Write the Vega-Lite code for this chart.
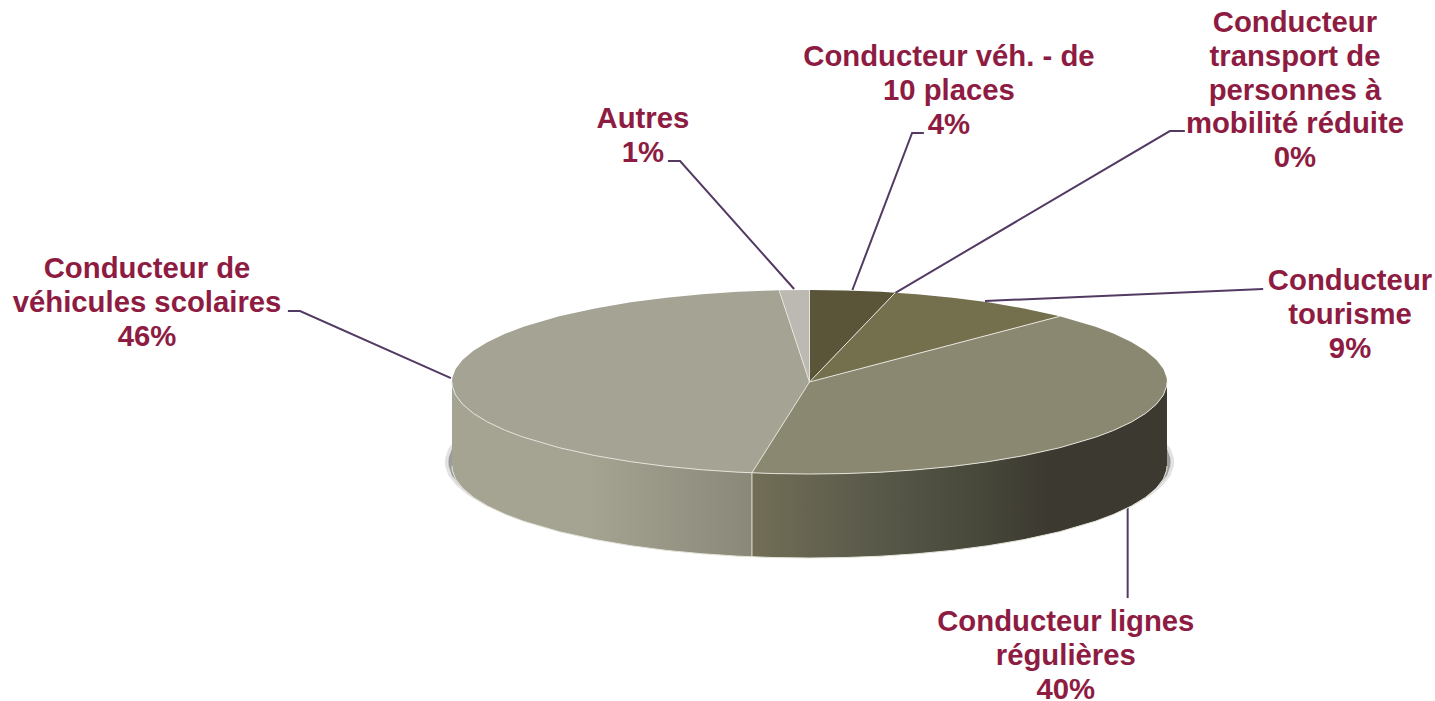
{"$schema":"https://vega.github.io/schema/vega-lite/v6.json","width":1435,"height":701,"padding":0,"autosize":{"type":"none"},"background":"white","config":{"view":{"stroke":null}},
"datasets":{
"shadow":[
{"s":"outer","x":-1.02,"y":-0.87,"y2":-0.87},{"s":"outer","x":-1.019,"y":-0.824,"y2":-0.916},{"s":"outer","x":-1.01,"y":-0.725,"y2":-1.015},{"s":"outer","x":-0.989,"y":-0.62,"y2":-1.12},{"s":"outer","x":-0.959,"y":-0.519,"y2":-1.221},{"s":"outer","x":-0.918,"y":-0.421,"y2":-1.319},{"s":"outer","x":-0.867,"y":-0.327,"y2":-1.413},{"s":"outer","x":-0.816,"y":-0.252,"y2":-1.488},{"s":"outer","x":-0.612,"y":-0.046,"y2":-1.694},{"s":"outer","x":-0.306,"y":0.113,"y2":-1.853},{"s":"outer","x":0,"y":0.16,"y2":-1.9},{"s":"outer","x":0.306,"y":0.113,"y2":-1.853},{"s":"outer","x":0.612,"y":-0.046,"y2":-1.694},{"s":"outer","x":0.816,"y":-0.252,"y2":-1.488},{"s":"outer","x":0.867,"y":-0.327,"y2":-1.413},{"s":"outer","x":0.918,"y":-0.421,"y2":-1.319},{"s":"outer","x":0.959,"y":-0.519,"y2":-1.221},{"s":"outer","x":0.989,"y":-0.62,"y2":-1.12},{"s":"outer","x":1.01,"y":-0.725,"y2":-1.015},{"s":"outer","x":1.019,"y":-0.824,"y2":-0.916},{"s":"outer","x":1.02,"y":-0.87,"y2":-0.87},
{"s":"inner","x":-1.01,"y":-0.87,"y2":-0.87},{"s":"inner","x":-1.009,"y":-0.824,"y2":-0.916},{"s":"inner","x":-1.0,"y":-0.725,"y2":-1.015},{"s":"inner","x":-0.979,"y":-0.62,"y2":-1.12},{"s":"inner","x":-0.949,"y":-0.519,"y2":-1.221},{"s":"inner","x":-0.909,"y":-0.421,"y2":-1.319},{"s":"inner","x":-0.859,"y":-0.327,"y2":-1.413},{"s":"inner","x":-0.808,"y":-0.252,"y2":-1.488},{"s":"inner","x":-0.606,"y":-0.046,"y2":-1.694},{"s":"inner","x":-0.303,"y":0.113,"y2":-1.853},{"s":"inner","x":0,"y":0.16,"y2":-1.89},{"s":"inner","x":0.303,"y":0.113,"y2":-1.853},{"s":"inner","x":0.606,"y":-0.046,"y2":-1.694},{"s":"inner","x":0.808,"y":-0.252,"y2":-1.488},{"s":"inner","x":0.859,"y":-0.327,"y2":-1.413},{"s":"inner","x":0.909,"y":-0.421,"y2":-1.319},{"s":"inner","x":0.949,"y":-0.519,"y2":-1.221},{"s":"inner","x":0.979,"y":-0.62,"y2":-1.12},{"s":"inner","x":1.0,"y":-0.725,"y2":-1.015},{"s":"inner","x":1.009,"y":-0.824,"y2":-0.916},{"s":"inner","x":1.01,"y":-0.87,"y2":-0.87}],
"side":[
{"p":"left","x":-1,"y":0,"y2":-0.913},{"p":"left","x":-0.999,"y":-0.045,"y2":-0.958},{"p":"left","x":-0.99,"y":-0.141,"y2":-1.054},{"p":"left","x":-0.97,"y":-0.243,"y2":-1.156},{"p":"left","x":-0.94,"y":-0.341,"y2":-1.254},{"p":"left","x":-0.9,"y":-0.436,"y2":-1.349},{"p":"left","x":-0.85,"y":-0.527,"y2":-1.44},{"p":"left","x":-0.8,"y":-0.6,"y2":-1.513},{"p":"left","x":-0.7,"y":-0.714,"y2":-1.627},{"p":"left","x":-0.6,"y":-0.8,"y2":-1.713},{"p":"left","x":-0.5,"y":-0.866,"y2":-1.779},{"p":"left","x":-0.4,"y":-0.917,"y2":-1.83},{"p":"left","x":-0.3,"y":-0.954,"y2":-1.867},{"p":"left","x":-0.2,"y":-0.98,"y2":-1.893},{"p":"left","x":-0.161,"y":-0.987,"y2":-1.9},
{"p":"right","x":-0.161,"y":-0.987,"y2":-1.9},{"p":"right","x":-0.1,"y":-0.995,"y2":-1.908},{"p":"right","x":0,"y":-1,"y2":-1.913},{"p":"right","x":0.1,"y":-0.995,"y2":-1.908},{"p":"right","x":0.2,"y":-0.98,"y2":-1.893},{"p":"right","x":0.3,"y":-0.954,"y2":-1.867},{"p":"right","x":0.4,"y":-0.917,"y2":-1.83},{"p":"right","x":0.5,"y":-0.866,"y2":-1.779},{"p":"right","x":0.6,"y":-0.8,"y2":-1.713},{"p":"right","x":0.7,"y":-0.714,"y2":-1.627},{"p":"right","x":0.8,"y":-0.6,"y2":-1.513},{"p":"right","x":0.85,"y":-0.527,"y2":-1.44},{"p":"right","x":0.9,"y":-0.436,"y2":-1.349},{"p":"right","x":0.94,"y":-0.341,"y2":-1.254},{"p":"right","x":0.97,"y":-0.243,"y2":-1.156},{"p":"right","x":0.99,"y":-0.141,"y2":-1.054},{"p":"right","x":0.999,"y":-0.045,"y2":-0.958},{"p":"right","x":1,"y":0,"y2":-0.913}],
"top":[
{"slice":"Conducteur véh. - de 10 places","x":0,"y":1,"y2":0},{"slice":"Conducteur véh. - de 10 places","x":0.1,"y":0.995,"y2":0.405},{"slice":"Conducteur véh. - de 10 places","x":0.2,"y":0.98,"y2":0.809},{"slice":"Conducteur véh. - de 10 places","x":0.24,"y":0.971,"y2":0.971},
{"slice":"Conducteur tourisme","x":0,"y":0,"y2":0},{"slice":"Conducteur tourisme","x":0.1,"y":0.405,"y2":0.102},{"slice":"Conducteur tourisme","x":0.2,"y":0.809,"y2":0.204},{"slice":"Conducteur tourisme","x":0.24,"y":0.971,"y2":0.245},{"slice":"Conducteur tourisme","x":0.3,"y":0.954,"y2":0.306},{"slice":"Conducteur tourisme","x":0.4,"y":0.917,"y2":0.408},{"slice":"Conducteur tourisme","x":0.5,"y":0.866,"y2":0.51},{"slice":"Conducteur tourisme","x":0.6,"y":0.8,"y2":0.612},{"slice":"Conducteur tourisme","x":0.7,"y":0.714,"y2":0.714},
{"slice":"Conducteur lignes régulières","x":-0.161,"y":-0.987,"y2":-0.987},{"slice":"Conducteur lignes régulières","x":-0.1,"y":-0.613,"y2":-0.995},{"slice":"Conducteur lignes régulières","x":0,"y":0,"y2":-1},{"slice":"Conducteur lignes régulières","x":0.1,"y":0.102,"y2":-0.995},{"slice":"Conducteur lignes régulières","x":0.2,"y":0.204,"y2":-0.98},{"slice":"Conducteur lignes régulières","x":0.3,"y":0.306,"y2":-0.954},{"slice":"Conducteur lignes régulières","x":0.4,"y":0.408,"y2":-0.917},{"slice":"Conducteur lignes régulières","x":0.5,"y":0.51,"y2":-0.866},{"slice":"Conducteur lignes régulières","x":0.6,"y":0.612,"y2":-0.8},{"slice":"Conducteur lignes régulières","x":0.7,"y":0.714,"y2":-0.714},{"slice":"Conducteur lignes régulières","x":0.8,"y":0.6,"y2":-0.6},{"slice":"Conducteur lignes régulières","x":0.85,"y":0.527,"y2":-0.527},{"slice":"Conducteur lignes régulières","x":0.9,"y":0.436,"y2":-0.436},{"slice":"Conducteur lignes régulières","x":0.94,"y":0.341,"y2":-0.341},{"slice":"Conducteur lignes régulières","x":0.97,"y":0.243,"y2":-0.243},{"slice":"Conducteur lignes régulières","x":0.99,"y":0.141,"y2":-0.141},{"slice":"Conducteur lignes régulières","x":0.999,"y":0.045,"y2":-0.045},{"slice":"Conducteur lignes régulières","x":1,"y":0,"y2":0},
{"slice":"Conducteur de véhicules scolaires","x":-1,"y":0,"y2":0},{"slice":"Conducteur de véhicules scolaires","x":-0.999,"y":0.045,"y2":-0.045},{"slice":"Conducteur de véhicules scolaires","x":-0.99,"y":0.141,"y2":-0.141},{"slice":"Conducteur de véhicules scolaires","x":-0.97,"y":0.243,"y2":-0.243},{"slice":"Conducteur de véhicules scolaires","x":-0.94,"y":0.341,"y2":-0.341},{"slice":"Conducteur de véhicules scolaires","x":-0.9,"y":0.436,"y2":-0.436},{"slice":"Conducteur de véhicules scolaires","x":-0.85,"y":0.527,"y2":-0.527},{"slice":"Conducteur de véhicules scolaires","x":-0.8,"y":0.6,"y2":-0.6},{"slice":"Conducteur de véhicules scolaires","x":-0.7,"y":0.714,"y2":-0.714},{"slice":"Conducteur de véhicules scolaires","x":-0.6,"y":0.8,"y2":-0.8},{"slice":"Conducteur de véhicules scolaires","x":-0.5,"y":0.866,"y2":-0.866},{"slice":"Conducteur de véhicules scolaires","x":-0.4,"y":0.917,"y2":-0.917},{"slice":"Conducteur de véhicules scolaires","x":-0.3,"y":0.954,"y2":-0.954},{"slice":"Conducteur de véhicules scolaires","x":-0.2,"y":0.98,"y2":-0.98},{"slice":"Conducteur de véhicules scolaires","x":-0.161,"y":0.987,"y2":-0.987},{"slice":"Conducteur de véhicules scolaires","x":-0.1,"y":0.995,"y2":-0.613},{"slice":"Conducteur de véhicules scolaires","x":-0.085,"y":0.996,"y2":-0.521},{"slice":"Conducteur de véhicules scolaires","x":0,"y":0,"y2":0},
{"slice":"Autres","x":-0.085,"y":0.996,"y2":0.996},{"slice":"Autres","x":0,"y":1,"y2":0}],
"edges":[
{"e":"d1","x":0,"y":0},{"e":"d1","x":0,"y":1},
{"e":"d2","x":0,"y":0},{"e":"d2","x":0.24,"y":0.971},
{"e":"d3","x":0,"y":0},{"e":"d3","x":0.7,"y":0.714},
{"e":"d4","x":0,"y":0},{"e":"d4","x":-0.161,"y":-0.987},
{"e":"d5","x":0,"y":0},{"e":"d5","x":-0.085,"y":0.996},
{"e":"d6","x":-0.161,"y":-0.987},{"e":"d6","x":-0.161,"y":-1.9},
{"e":"rim","x":-1,"y":0},{"e":"rim","x":-0.999,"y":-0.045},{"e":"rim","x":-0.99,"y":-0.141},{"e":"rim","x":-0.97,"y":-0.243},{"e":"rim","x":-0.94,"y":-0.341},{"e":"rim","x":-0.9,"y":-0.436},{"e":"rim","x":-0.85,"y":-0.527},{"e":"rim","x":-0.8,"y":-0.6},{"e":"rim","x":-0.7,"y":-0.714},{"e":"rim","x":-0.6,"y":-0.8},{"e":"rim","x":-0.5,"y":-0.866},{"e":"rim","x":-0.4,"y":-0.917},{"e":"rim","x":-0.3,"y":-0.954},{"e":"rim","x":-0.2,"y":-0.98},{"e":"rim","x":-0.1,"y":-0.995},{"e":"rim","x":0,"y":-1},{"e":"rim","x":0.1,"y":-0.995},{"e":"rim","x":0.2,"y":-0.98},{"e":"rim","x":0.3,"y":-0.954},{"e":"rim","x":0.4,"y":-0.917},{"e":"rim","x":0.5,"y":-0.866},{"e":"rim","x":0.6,"y":-0.8},{"e":"rim","x":0.7,"y":-0.714},{"e":"rim","x":0.8,"y":-0.6},{"e":"rim","x":0.85,"y":-0.527},{"e":"rim","x":0.9,"y":-0.436},{"e":"rim","x":0.94,"y":-0.341},{"e":"rim","x":0.97,"y":-0.243},{"e":"rim","x":0.99,"y":-0.141},{"e":"rim","x":0.999,"y":-0.045},{"e":"rim","x":1,"y":0},
{"e":"base","x":-1,"y":-0.913},{"e":"base","x":-0.999,"y":-0.958},{"e":"base","x":-0.99,"y":-1.054},{"e":"base","x":-0.97,"y":-1.156},{"e":"base","x":-0.94,"y":-1.254},{"e":"base","x":-0.9,"y":-1.349},{"e":"base","x":-0.85,"y":-1.44},{"e":"base","x":-0.8,"y":-1.513},{"e":"base","x":-0.7,"y":-1.627},{"e":"base","x":-0.6,"y":-1.713},{"e":"base","x":-0.5,"y":-1.779},{"e":"base","x":-0.4,"y":-1.83},{"e":"base","x":-0.3,"y":-1.867},{"e":"base","x":-0.2,"y":-1.893},{"e":"base","x":-0.1,"y":-1.908},{"e":"base","x":0,"y":-1.913},{"e":"base","x":0.1,"y":-1.908},{"e":"base","x":0.2,"y":-1.893},{"e":"base","x":0.3,"y":-1.867},{"e":"base","x":0.4,"y":-1.83},{"e":"base","x":0.5,"y":-1.779},{"e":"base","x":0.6,"y":-1.713},{"e":"base","x":0.7,"y":-1.627},{"e":"base","x":0.8,"y":-1.513},{"e":"base","x":0.85,"y":-1.44},{"e":"base","x":0.9,"y":-1.349},{"e":"base","x":0.94,"y":-1.254},{"e":"base","x":0.97,"y":-1.156},{"e":"base","x":0.99,"y":-1.054},{"e":"base","x":0.999,"y":-0.958},{"e":"base","x":1,"y":-0.913}],
"leaders":[
{"l":"Autres","x":-0.396,"y":2.402},{"l":"Autres","x":-0.362,"y":2.402},{"l":"Autres","x":-0.043,"y":1.011},
{"l":"veh","x":0.32,"y":2.707},{"l":"veh","x":0.287,"y":2.707},{"l":"veh","x":0.12,"y":1.0},
{"l":"pmr","x":0.239,"y":0.967},{"l":"pmr","x":1.008,"y":2.728},{"l":"pmr","x":1.05,"y":2.728},
{"l":"tourisme","x":0.491,"y":0.88},{"l":"tourisme","x":1.269,"y":1.011},
{"l":"scolaires","x":-1.459,"y":0.772},{"l":"scolaires","x":-1.425,"y":0.772},{"l":"scolaires","x":-1.003,"y":0.043},
{"l":"lignes","x":0.89,"y":-1.359},{"l":"lignes","x":0.89,"y":-2.348}],
"labels":[
{"t":["Autres","1%"],"x":-0.466,"y":2.859},
{"t":["Conducteur véh. - de","10 places","4%"],"x":0.39,"y":3.533},
{"t":["Conducteur","transport de","personnes à","mobilité réduite","0%"],"x":1.358,"y":3.902},
{"t":["Conducteur","tourisme","9%"],"x":1.512,"y":1.098},
{"t":["Conducteur de","véhicules scolaires","46%"],"x":-1.853,"y":1.228},
{"t":["Conducteur lignes","régulières","40%"],"x":0.717,"y":-2.609}]
},
"encoding":{
"x":{"field":"x","type":"quantitative","axis":null,"scale":{"domain":[-2.2643,1.7497],"nice":false,"zero":false}},
"y":{"field":"y","type":"quantitative","axis":null,"stack":null,"scale":{"domain":[-3.467,4.152],"nice":false,"zero":false}}
},
"layer":[
{"data":{"name":"leaders"},"mark":{"type":"line","color":"#533a63","strokeWidth":2,"strokeJoin":"miter"},"encoding":{"detail":{"field":"l"}}},
{"data":{"name":"shadow"},"transform":[{"filter":"datum.s==='outer'"}],"mark":{"type":"area","color":"#e2e2e2"},"encoding":{"y2":{"field":"y2"}}},
{"data":{"name":"shadow"},"transform":[{"filter":"datum.s==='inner'"}],"mark":{"type":"area","color":"#9c9c9c"},"encoding":{"y2":{"field":"y2"}}},
{"data":{"name":"side"},"transform":[{"filter":"datum.p==='left'"}],"mark":{"type":"area","color":{"gradient":"linear","x1":0,"y1":0,"x2":1,"y2":0,"stops":[{"offset":0,"color":"#a5a391"},{"offset":0.45,"color":"#a5a392"},{"offset":1,"color":"#8a8979"}]}},"encoding":{"y2":{"field":"y2"}}},
{"data":{"name":"side"},"transform":[{"filter":"datum.p==='right'"}],"mark":{"type":"area","color":{"gradient":"linear","x1":0,"y1":0,"x2":1,"y2":0,"stops":[{"offset":0,"color":"#726e56"},{"offset":0.3,"color":"#59594a"},{"offset":0.55,"color":"#47473a"},{"offset":0.72,"color":"#3c3930"},{"offset":1,"color":"#3c3930"}]}},"encoding":{"y2":{"field":"y2"}}},
{"data":{"name":"top"},"mark":{"type":"area"},"encoding":{"y2":{"field":"y2"},"color":{"field":"slice","type":"nominal","legend":null,"scale":{"domain":["Conducteur véh. - de 10 places","Conducteur tourisme","Conducteur lignes régulières","Conducteur de véhicules scolaires","Autres"],"range":["#5a5538","#746f4d","#8a8870","#a5a393","#bbb9b1"]}}}},
{"data":{"name":"edges"},"mark":{"type":"line","color":"#e6e5dc","strokeWidth":1},"encoding":{"detail":{"field":"e"}}},
{"data":{"name":"labels"},"mark":{"type":"text","font":"Liberation Sans","fontWeight":"bold","fontSize":29.3,"lineHeight":33.8,"color":"#8e1c42","align":"center","baseline":"middle"},"encoding":{"text":{"field":"t"}}}
]}
